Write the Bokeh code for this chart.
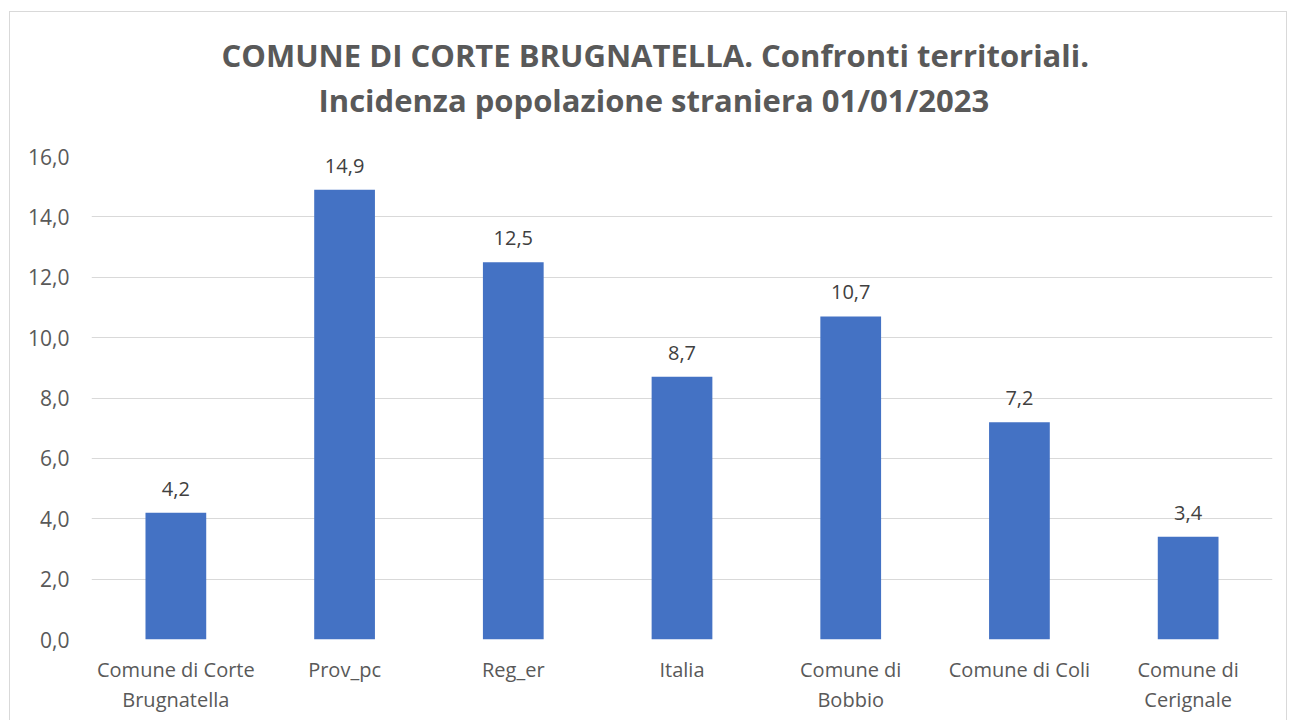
from bokeh.plotting import figure
from bokeh.models import (Range1d, FactorRange, FixedTicker, CustomJSTickFormatter,
                          ColumnDataSource, LabelSet, Title, CategoricalAxis, InlineStyleSheet)
from bokeh.core.properties import value
from bokeh.embed import file_html
from bokeh.resources import INLINE

categories = ["Comune di Corte Brugnatella", "Prov_pc", "Reg_er", "Italia",
              "Comune di Bobbio", "Comune di Coli", "Comune di Cerignale"]
label_line1 = ["Comune di Corte", "Prov_pc", "Reg_er", "Italia",
               "Comune di", "Comune di Coli", "Comune di"]
label_line2 = ["Brugnatella", "", "", "", "Bobbio", "", "Cerignale"]
values = [4.2, 14.9, 12.5, 8.7, 10.7, 7.2, 3.4]
y_ticks = [0, 2, 4, 6, 8, 10, 12, 14, 16]
title_lines = ["COMUNE DI CORTE BRUGNATELLA. Confronti territoriali.",
               "Incidenza popolazione straniera 01/01/2023"]

FONT = "Open Sans"
GRAY = "#595959"

p = figure(width=1290, height=720, output_backend="svg", toolbar_location=None,
           x_range=FactorRange(factors=categories), y_range=Range1d(0, 16),
           min_border_left=91, min_border_right=18, min_border_top=156, min_border_bottom=81)

p.outline_line_color = None
p.background_fill_color = "white"
p.border_fill_color = "white"

src = ColumnDataSource(dict(x=categories, y=values,
                            lbl=[f"{v:.1f}".replace(".", ",") for v in values]))
p.vbar(x="x", top="y", width=0.36, source=src, fill_color="#4472C4", line_color=None)

p.add_layout(LabelSet(x="x", y="y", text="lbl", source=src, y_offset=24,
                      text_align="center", text_baseline="middle",
                      text_font=value(FONT), text_font_size="20px", text_color="#404040"))

# y axis
p.yaxis.ticker = FixedTicker(ticks=y_ticks)
p.yaxis.formatter = CustomJSTickFormatter(code="return tick.toFixed(1).replace('.', ',');")
p.yaxis.axis_line_color = None
p.yaxis.major_tick_line_color = None
p.yaxis.minor_tick_line_color = None
p.yaxis.major_tick_out = 0
p.yaxis.major_tick_in = 0
p.yaxis.major_label_standoff = 22
p.yaxis.major_label_text_font = FONT
p.yaxis.major_label_text_font_size = "21px"
p.yaxis.major_label_text_color = GRAY

# x axes: first and second line of category labels
def style_x(ax, labels, standoff):
    ax.formatter = CustomJSTickFormatter(
        args=dict(cats=categories, labs=labels),
        code="const i = cats.indexOf(tick); return i >= 0 ? labs[i] : '';")
    ax.axis_line_color = None
    ax.major_tick_line_color = None
    ax.major_tick_out = 0
    ax.major_tick_in = 0
    ax.major_label_standoff = standoff
    ax.major_label_text_font = FONT
    ax.major_label_text_font_size = "20px"
    ax.major_label_text_color = GRAY

style_x(p.xaxis[0], label_line1, 16)
ax2 = CategoricalAxis()
style_x(ax2, label_line2, 0)
p.add_layout(ax2, "below")

p.xgrid.grid_line_color = None
p.ygrid.grid_line_color = "#D9D9D9"
p.ygrid.grid_line_width = 1

# spacer between frame and title lines
p.add_layout(Title(text=" ", text_font_size="10px", standoff=22), "above")
for txt, off, so in reversed(list(zip(title_lines, [130, 227], [0, 2]))):
    p.add_layout(Title(text=txt, align="left", offset=off, standoff=so,
                       text_font=FONT, text_font_style="bold", text_font_size="31px",
                       text_color=GRAY), "above")

p.stylesheets = [InlineStyleSheet(css="""
:host { position: relative; }
:host::after { content: ""; position: absolute; left: 9px; top: 11px; right: 3px; bottom: 0px;
  border: 1px solid #D9D9D9; border-bottom: none; pointer-events: none; z-index: 10; }
""")]

open("out.html", "w").write(file_html(p, INLINE))
